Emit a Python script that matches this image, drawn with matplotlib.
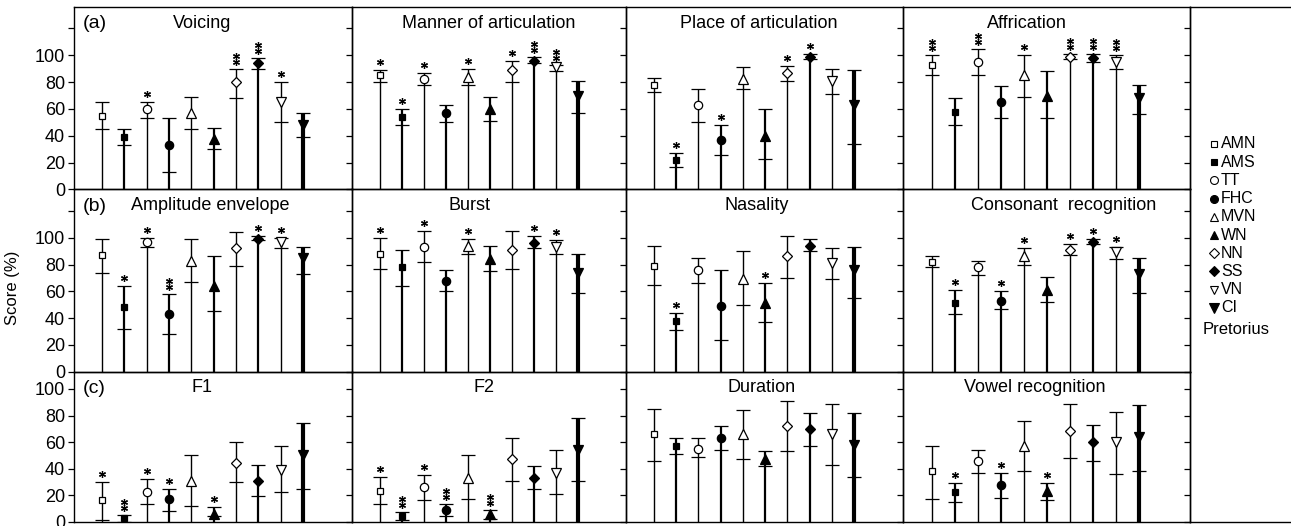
import matplotlib
matplotlib.use('Agg')
import matplotlib.pyplot as plt
from matplotlib.transforms import offset_copy
from matplotlib.lines import Line2D

plt.rcParams['font.family'] = ['Liberation Sans', 'DejaVu Sans']

# ---------------- data ----------------
groups = ['AMN', 'AMS', 'TT', 'FHC', 'MVN', 'WN', 'NN', 'SS', 'VN', 'CI']

voicing_mean = [55, 39, 60, 33, 57, 38, 80, 94, 65, 48]
voicing_low = [45, 33, 53, 13, 45, 30, 68, 90, 50, 39]
voicing_high = [65, 45, 65, 53, 69, 46, 90, 98, 80, 57]
voicing_sig = [0, 0, 1, 0, 0, 0, 2, 2, 1, 0]

manner_mean = [85, 54, 82, 57, 84, 60, 89, 96, 91, 70]
manner_low = [80, 48, 78, 50, 78, 51, 80, 94, 88, 57]
manner_high = [89, 60, 87, 63, 90, 69, 96, 99, 93, 81]
manner_sig = [1, 1, 1, 0, 1, 0, 1, 2, 2, 0]

place_mean = [78, 22, 63, 37, 82, 40, 87, 99, 81, 63]
place_low = [73, 17, 50, 26, 75, 23, 81, 97, 71, 34]
place_high = [83, 27, 75, 48, 91, 60, 92, 101, 90, 89]
place_sig = [0, 1, 0, 1, 0, 0, 1, 1, 0, 0]

affric_mean = [93, 58, 95, 65, 85, 70, 99, 98, 95, 68]
affric_low = [85, 48, 85, 53, 69, 53, 97, 95, 90, 56]
affric_high = [100, 68, 105, 77, 100, 88, 101, 101, 100, 78]
affric_sig = [2, 0, 2, 0, 1, 0, 2, 2, 2, 0]

ampenv_mean = [87, 48, 97, 43, 83, 64, 92, 99, 97, 85]
ampenv_low = [74, 32, 93, 28, 67, 45, 79, 98, 92, 73]
ampenv_high = [99, 64, 100, 58, 99, 86, 104, 101, 100, 93]
ampenv_sig = [0, 1, 1, 2, 0, 0, 0, 1, 1, 0]

burst_mean = [88, 78, 93, 68, 94, 84, 91, 96, 93, 74]
burst_low = [77, 64, 82, 60, 88, 75, 77, 92, 88, 59]
burst_high = [100, 91, 105, 76, 99, 94, 105, 101, 98, 88]
burst_sig = [1, 0, 1, 0, 1, 0, 0, 1, 1, 0]

nasal_mean = [79, 38, 76, 49, 69, 51, 86, 94, 81, 76]
nasal_low = [65, 31, 66, 24, 50, 37, 70, 90, 69, 55]
nasal_high = [94, 44, 85, 76, 90, 66, 101, 99, 92, 93]
nasal_sig = [0, 1, 0, 0, 0, 1, 0, 0, 0, 0]

cons_mean = [82, 51, 78, 53, 86, 61, 91, 97, 89, 73]
cons_low = [78, 43, 72, 47, 80, 52, 87, 95, 84, 59]
cons_high = [86, 61, 83, 60, 92, 71, 95, 99, 93, 85]
cons_sig = [0, 1, 0, 1, 1, 0, 1, 1, 1, 0]

f1_mean = [16, 3, 22, 17, 31, 6, 44, 31, 39, 50]
f1_low = [1, 0, 13, 8, 12, 4, 30, 19, 22, 25]
f1_high = [30, 5, 32, 25, 50, 11, 60, 43, 57, 74]
f1_sig = [1, 2, 1, 1, 0, 1, 0, 0, 0, 0]

f2_mean = [23, 4, 26, 9, 33, 6, 47, 33, 37, 54]
f2_low = [13, 1, 16, 4, 17, 2, 31, 25, 21, 31]
f2_high = [34, 7, 35, 13, 50, 9, 63, 42, 54, 78]
f2_sig = [1, 2, 1, 2, 0, 2, 0, 0, 0, 0]

dur_mean = [66, 57, 55, 63, 66, 47, 72, 70, 66, 58]
dur_low = [46, 51, 49, 54, 47, 42, 53, 57, 43, 34]
dur_high = [85, 63, 63, 72, 84, 53, 91, 82, 89, 82]
dur_sig = [0, 0, 0, 0, 0, 0, 0, 0, 0, 0]

vowel_mean = [38, 22, 46, 28, 57, 23, 68, 60, 60, 64]
vowel_low = [17, 15, 37, 18, 38, 16, 48, 46, 36, 38]
vowel_high = [57, 29, 54, 37, 76, 29, 89, 73, 83, 88]
vowel_sig = [0, 1, 0, 1, 0, 1, 0, 0, 0, 0]

panel_titles = [
    ['Voicing', 'Manner of articulation', 'Place of articulation', 'Affrication'],
    ['Amplitude envelope', 'Burst', 'Nasality', 'Consonant  recognition'],
    ['F1', 'F2', 'Duration', 'Vowel recognition'],
]
panel_data = [
    [(voicing_mean, voicing_low, voicing_high, voicing_sig),
     (manner_mean, manner_low, manner_high, manner_sig),
     (place_mean, place_low, place_high, place_sig),
     (affric_mean, affric_low, affric_high, affric_sig)],
    [(ampenv_mean, ampenv_low, ampenv_high, ampenv_sig),
     (burst_mean, burst_low, burst_high, burst_sig),
     (nasal_mean, nasal_low, nasal_high, nasal_sig),
     (cons_mean, cons_low, cons_high, cons_sig)],
    [(f1_mean, f1_low, f1_high, f1_sig),
     (f2_mean, f2_low, f2_high, f2_sig),
     (dur_mean, dur_low, dur_high, dur_sig),
     (vowel_mean, vowel_low, vowel_high, vowel_sig)],
]
row_labels = ['(a)', '(b)', '(c)']
legend_extra = 'Pretorius'

# ---------------- style ----------------
markers = ['s', 's', 'o', 'o', '^', '^', 'D', 'D', 'v', 'v']
filled = [False, True, False, True, False, True, False, True, False, True]
msizes = [5.0, 5.0, 6.0, 6.0, 6.8, 6.8, 5.2, 5.2, 6.8, 7.2]
stem_lw = [1.0, 1.6, 1.0, 1.6, 1.0, 1.6, 1.0, 1.6, 1.0, 3.0]
title_xfrac = [[0.46, 0.50, 0.48, 0.43],
               [0.49, 0.43, 0.47, 0.56],
               [0.46, 0.48, 0.49, 0.46]]

W, H = 1291, 526
col_px = [74, 352, 626, 903, 1190, 1291]
row_px = [7, 189.5, 371.7, 521.7]
row_ylim = [136, 136, 113]
row_ticks = [[0, 20, 40, 60, 80, 100, 120], [0, 20, 40, 60, 80, 100, 120],
             [0, 20, 40, 60, 80, 100]]
row_ticklabels = [[0, 20, 40, 60, 80, 100], [0, 20, 40, 60, 80, 100],
                  [0, 20, 40, 60, 80, 100]]

fig = plt.figure(figsize=(W / 100, H / 100), dpi=100)


def rect(c, r):
    x0 = col_px[c] / W
    x1 = col_px[c + 1] / W
    y0 = 1 - row_px[r + 1] / H
    y1 = 1 - row_px[r] / H
    return [x0, y0, x1 - x0, y1 - y0]


for r in range(3):
    for c in range(5):
        ax = fig.add_axes(rect(c, r))
        ax.set_ylim(0, row_ylim[r])
        ax.set_xlim(-1.25, 11.2)
        ax.set_xticks([])
        ax.set_yticks(row_ticks[r])
        ax.tick_params(axis='y', direction='out', length=4.5, width=0.9,
                       labelsize=13, pad=2)
        if c == 0:
            labs = [str(v) if v in row_ticklabels[r] else '' for v in row_ticks[r]]
            ax.set_yticklabels(labs)
        else:
            ax.set_yticklabels([])
        for s in ax.spines.values():
            s.set_linewidth(1.0)
        ax.patch.set_alpha(0)
        if c == 4:
            ax.spines['right'].set_visible(False)
            if r != 0:
                ax.spines['top'].set_visible(False)
            if r != 2:
                ax.spines['bottom'].set_visible(False)
            continue

        mean, low, high, sig = panel_data[r][c]
        for i in range(len(groups)):
            ax.vlines(i, 0, high[i], color='black', lw=stem_lw[i], zorder=2)
            ax.plot([i, i], [low[i], high[i]], ls='none', marker='_', ms=10,
                    mew=0.9, color='black', zorder=2)
            ax.plot([i], [mean[i]], ls='none', marker=markers[i], ms=msizes[i],
                    mfc='black' if filled[i] else 'white', mec='black',
                    mew=0.9, zorder=4)
            for k in range(sig[i]):
                tr = offset_copy(ax.transData, fig=fig, x=0,
                                 y=(8 if sig[i] == 1 else 7 + 6 * k), units='dots')
                ax.plot([i], [high[i]], ls='none', marker=(6, 2, 0), ms=5,
                        mew=0.9, color='black', transform=tr, zorder=5,
                        clip_on=False)

        ttr = offset_copy(ax.transAxes, fig=fig, x=0, y=-16, units='dots')
        ax.text(title_xfrac[r][c], 1, panel_titles[r][c], transform=ttr,
                ha='center', va='center', fontsize=13)
        if c == 0:
            ltr = offset_copy(ax.transAxes, fig=fig, x=9, y=-17, units='dots')
            ax.text(0, 1, row_labels[r], transform=ltr, ha='left', va='center',
                    fontsize=14)

fig.text(13 / W, 1 - 288 / H, 'Score (%)', rotation=90, ha='center',
         va='center', fontsize=12)

# legend
for k, g in enumerate(groups):
    ypx = 144 + 18.2 * k
    fig.add_artist(Line2D([1214 / W], [1 - ypx / H], ls='none',
                          marker=markers[k], ms=msizes[k] * 0.95,
                          mfc='black' if filled[k] else 'white', mec='black',
                          mew=0.8, transform=fig.transFigure))
    fig.text(1221 / W, 1 - ypx / H, g, ha='left', va='center', fontsize=11.5)
fig.text(1203 / W, 1 - 329 / H, legend_extra, ha='left', va='center',
         fontsize=12)

fig.savefig('out.png', dpi=100)
